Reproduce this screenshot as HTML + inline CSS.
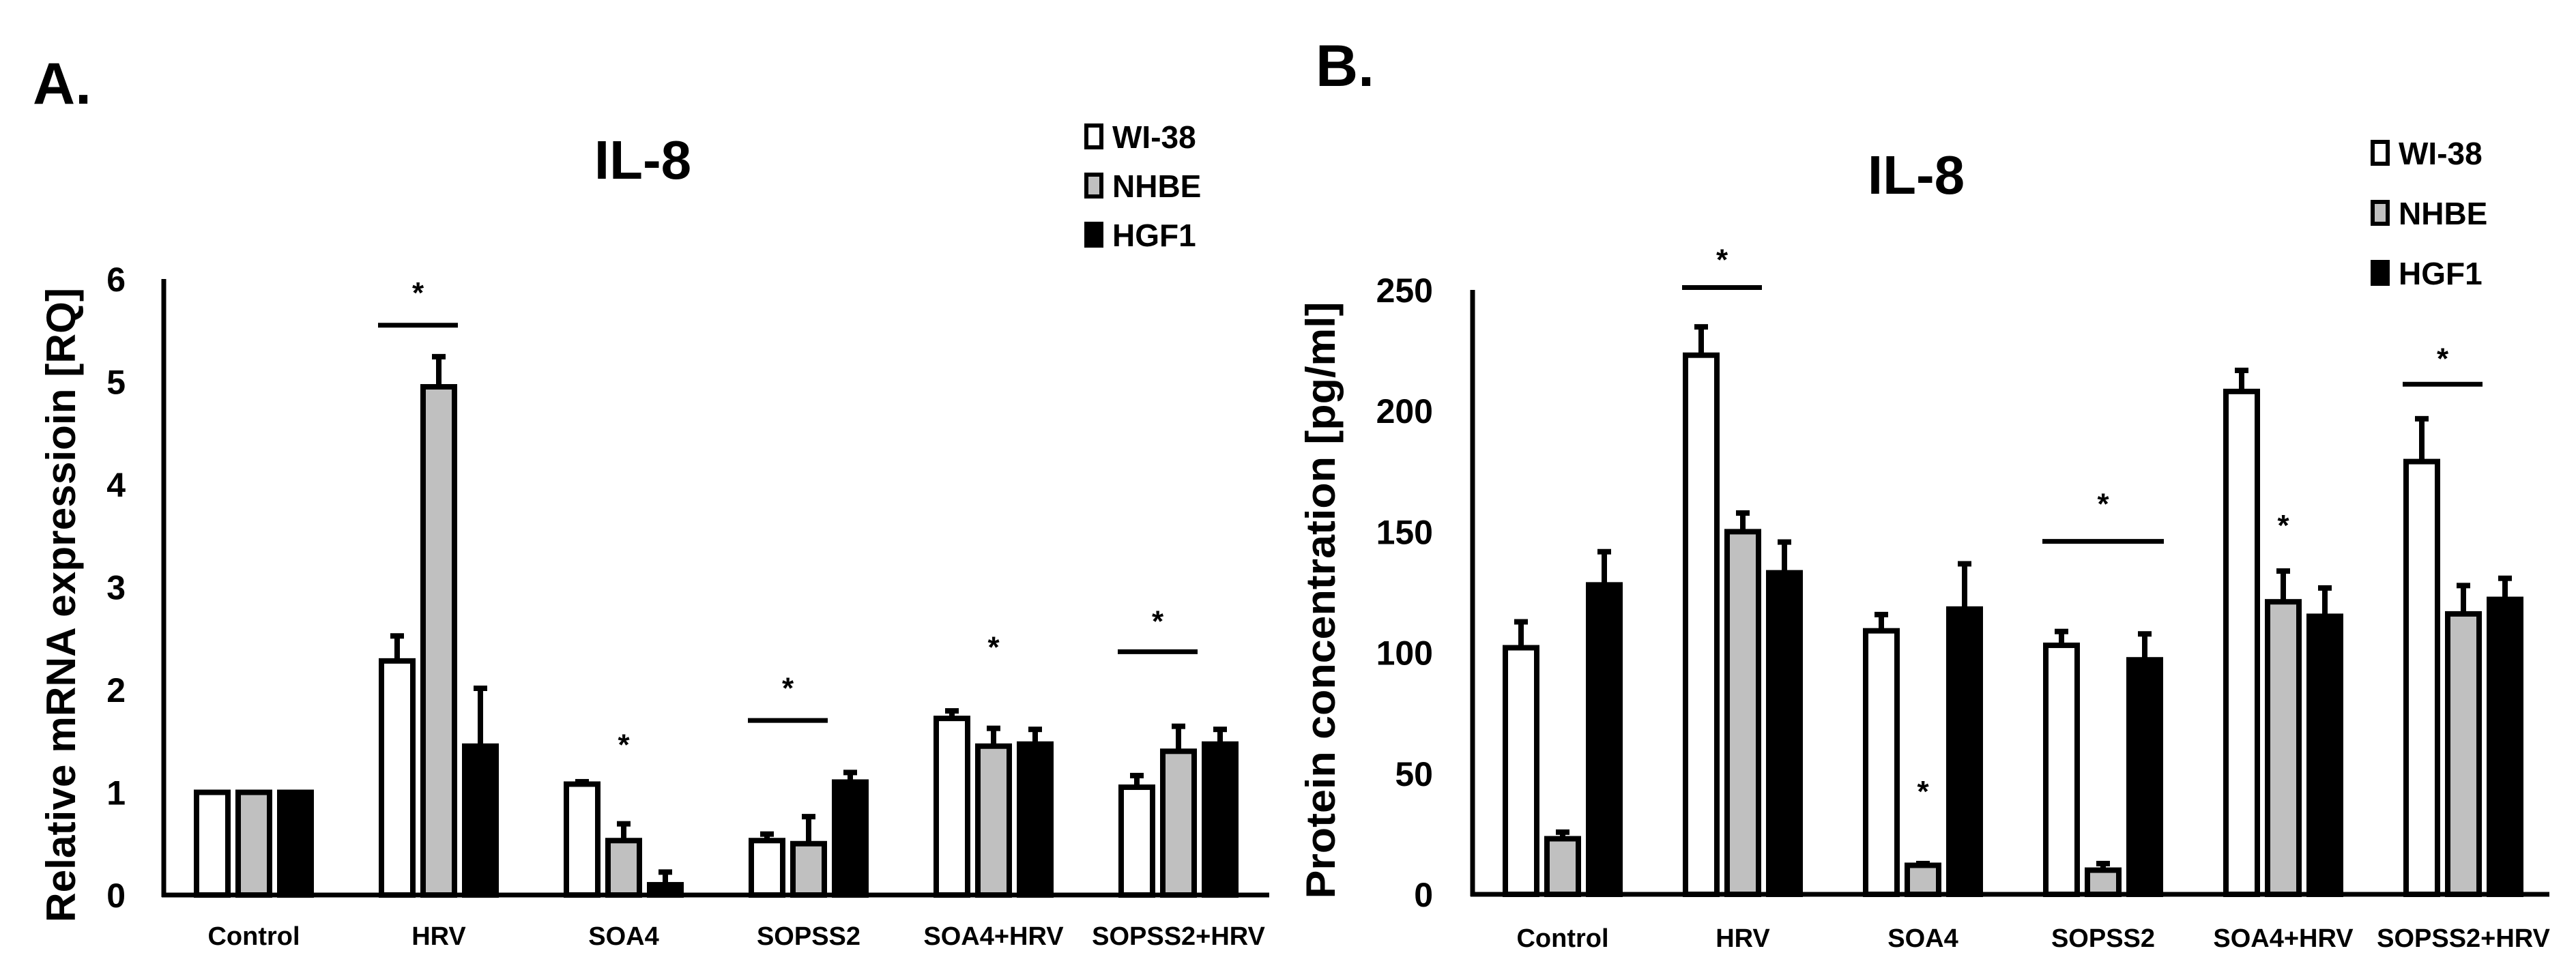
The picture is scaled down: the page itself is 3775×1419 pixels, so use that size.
<!DOCTYPE html>
<html><head><meta charset="utf-8"><style>
html,body{margin:0;padding:0;background:#fff}
svg{display:block}
text{font-family:"Liberation Sans",sans-serif;font-weight:bold;fill:#000}
</style></head><body>
<svg id="fig" width="3775" height="1419" viewBox="0 0 3775 1419" xmlns="http://www.w3.org/2000/svg"></svg>
<script>
const categories = ["Control","HRV","SOA4","SOPSS2","SOA4+HRV","SOPSS2+HRV"];
const seriesNames = ["WI-38","NHBE","HGF1"];
const seriesFill = ["#ffffff","#c0c0c0","#000000"];
// Panel A: relative mRNA expression
const aWI = [1, 2.28, 1.08, 0.53, 1.72, 1.05];
const aNHBE = [1, 4.95, 0.53, 0.5, 1.45, 1.4];
const aHGF = [1, 1.45, 0.1, 1.1, 1.47, 1.47];
const aErrWI = [0, 0.25, 0.03, 0.07, 0.08, 0.12];
const aErrNHBE = [0, 0.3, 0.17, 0.27, 0.18, 0.25];
const aErrHGF = [0, 0.57, 0.13, 0.1, 0.15, 0.15];
const aTicks = [0,1,2,3,4,5,6];
// Panel B: protein concentration
const bWI = [102, 223, 109, 103, 208, 179];
const bNHBE = [23, 150, 12, 10, 121, 116];
const bHGF = [128, 133, 118, 97, 115, 122];
const bErrWI = [11, 12, 7, 6, 9, 18];
const bErrNHBE = [3, 8, 1, 3, 13, 12];
const bErrHGF = [14, 13, 19, 11, 12, 9];
const bTicks = [0,50,100,150,200,250];
// significance marks: [category index, line value or null, star value, line from series, line to series]
const aSig = [[1,5.55,5.9,0,1],[2,null,1.5,1,1],[3,1.7,2.05,0,1],[4,null,2.45,1,1],[5,2.37,2.7,0,1]];
const bSig = [[1,251,264,0,1],[2,null,44,1,1],[3,146,163,0,2],[4,null,154,1,1],[5,211,223,0,1]];

const NS="http://www.w3.org/2000/svg";
const svg=document.getElementById('fig');
function mk(tag,attrs,parent){const e=document.createElementNS(NS,tag);for(const k in attrs)e.setAttribute(k,attrs[k]);(parent||svg).appendChild(e);return e;}

function panel(o){
  const g=mk('g',{});
  
  
  const y=v=>o.y0-(v-o.min)/(o.max-o.min)*(o.y0-o.yTop);
  const cx=i=>o.x0+i*o.step;
  const pitch=61, bw=46;
  const bx=(i,s)=>cx(i)+(s-1)*pitch;
  // letter
  let t=mk('text',{x:o.letterX,y:o.letterY,'font-size':86},g);t.textContent=o.letter;
  
  
  t=mk('text',{x:o.titleX,y:o.titleY,'font-size':80,'text-anchor':'middle'},g);t.textContent="IL-8";
  
  
  // axes
  let l=mk('line',{x1:o.axX,y1:o.yTop,x2:o.axX,y2:o.y0+3,stroke:'#000','stroke-width':7},g);
  
  
  l=mk('line',{x1:o.axX-3,y1:o.y0,x2:o.axRight,y2:o.y0,stroke:'#000','stroke-width':7},g);
  
  
  o.ticks.forEach(v=>{
    const tt=mk('text',{x:o.tickX,y:y(v)+18,'font-size':50,'text-anchor':'end'},g);tt.textContent=v;
    
    
  });
  t=mk('text',{transform:`translate(${o.ytX},${o.ytY}) rotate(-90)`,'font-size':60,'text-anchor':'middle',textLength:o.ytLen,lengthAdjust:'spacingAndGlyphs'},g);
  t.textContent=o.yTitle;
  
  
  categories.forEach((c,i)=>{
    const tt=mk('text',{x:cx(i),y:o.xlY,'font-size':38,'text-anchor':'middle'},g);tt.textContent=c;
    
    
  });
  // bars
  o.vals.forEach((arr,s)=>{
    arr.forEach((v,i)=>{
      const x=bx(i,s)-bw/2, top=y(v);
      const e=o.errs[s][i];
      if(e>0){
        const ey=y(v+e);
        const st=mk('line',{x1:bx(i,s),y1:top,x2:bx(i,s),y2:ey,stroke:'#000','stroke-width':8},g);
        
        
        const cp=mk('rect',{x:bx(i,s)-10,y:ey-3,width:20,height:8,fill:'#000'},g);
        
        
      }
      const r=mk('rect',{x:x,y:top,width:bw,height:Math.max(o.y0-top,0),fill:seriesFill[s],stroke:'#000','stroke-width':8},g);
      
      
    });
  });
  // significance
  o.sig.forEach(sg=>{
    const [i,lv,sv,a,b]=sg;
    let sx=cx(i);
    if(lv!==null){
      const x1=bx(i,a)-bw/2-5,x2=bx(i,b)+bw/2+5;
      const ln=mk('line',{x1:x1,y1:y(lv),x2:x2,y2:y(lv),stroke:'#000','stroke-width':7},g);
      
      
      sx=(x1+x2)/2;
    }
    const st=mk('text',{x:sx,y:y(sv)+20,'font-size':44,'text-anchor':'middle'},g);st.textContent='*';
    
    
  });
  // legend
  seriesNames.forEach((n,s)=>{
    const ry=o.legY+s*o.legStep;
    const r=mk('rect',{x:o.legX,y:ry-16,width:22,height:32,fill:seriesFill[s],stroke:'#000','stroke-width':6},g);
    
    
    const tt=mk('text',{x:o.legX+38,y:ry+17,'font-size':46},g);tt.textContent=n;
    
    
  });
}

panel({id:'a',letter:'A.',letterX:48,letterY:152,titleX:942,titleY:262,
  axX:240,axRight:1860,y0:1312,yTop:409,min:0,max:6,ticks:aTicks,tickX:184,
  ytX:110,ytY:887,ytLen:930,yTitle:'Relative mRNA expressioin [RQ]',
  x0:372,step:271,xlY:1385,vals:[aWI,aNHBE,aHGF],errs:[aErrWI,aErrNHBE,aErrHGF],sig:aSig,
  legX:1592,legY:200,legStep:72});
panel({id:'b',letter:'B.',letterX:1928,letterY:126,titleX:2808,titleY:284,
  axX:2158,axRight:3736,y0:1311,yTop:425,min:0,max:250,ticks:bTicks,tickX:2100,
  ytX:1956,ytY:880,ytLen:875,yTitle:'Protein concentration [pg/ml]',
  x0:2290,step:264,xlY:1388,vals:[bWI,bNHBE,bHGF],errs:[bErrWI,bErrNHBE,bErrHGF],sig:bSig,
  legX:3477,legY:224,legStep:88});
</script>
</body></html>
